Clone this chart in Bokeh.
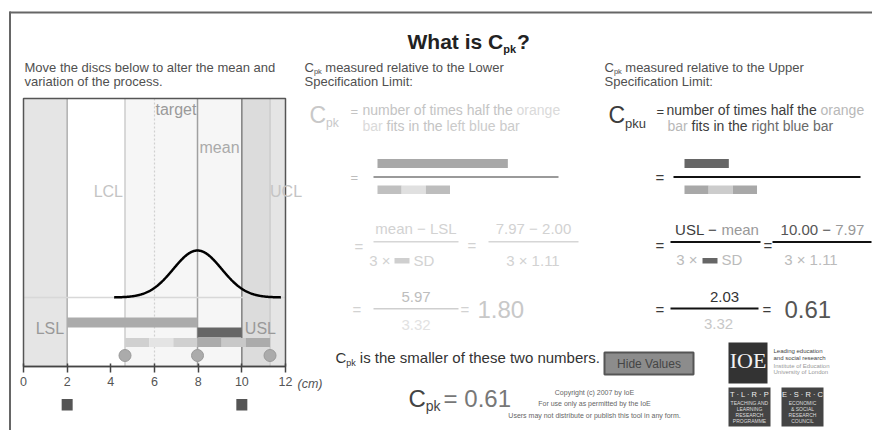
import numpy as np
from bokeh.plotting import figure
from bokeh.models import Range1d, Label, BoxAnnotation, FixedTicker, LinearAxis
from bokeh.embed import file_html
from bokeh.resources import INLINE

# ---------------- data ----------------
process_mean = 7.97
process_sd = 1.107
lsl = 2.00
usl = 10.00
target = 6.00
x_ticks = [0, 2, 4, 6, 8, 10, 12]
x_tick_labels = ["0", "2", "4", "6", "8", "10", "12"]
x_unit = "(cm)"

lcl = process_mean - 3 * process_sd
ucl = process_mean + 3 * process_sd
cpl = (process_mean - lsl) / (3 * process_sd)
cpu = (usl - process_mean) / (3 * process_sd)
cpk = min(cpl, cpu)


def f2(v):
    return f"{v:.2f}"


# ---------------- geometry (page pixels) ----------------
W, H = 872, 430
FL, FR, FT, FB = 23, 285, 98, 366          # chart box
BASE_PX, PEAK_PX = 297, 250                # curve baseline / peak rows
PXCM = (FR - FL) / (x_ticks[-1] - x_ticks[0])
peak = 1 / (process_sd * np.sqrt(2 * np.pi))
k = (BASE_PX - PEAK_PX) / peak

FONT = "Liberation Sans"

p = figure(width=W, height=H,
           x_range=Range1d((0 - FL) / PXCM, (W - FL) / PXCM),
           y_range=Range1d(H, 0),
           toolbar_location=None, output_backend="svg",
           x_axis_location=None, y_axis_location=None,
           min_border_left=0, min_border_right=0, min_border_top=0, min_border_bottom=0)
p.extra_x_ranges = {"px": Range1d(0, W)}
p.extra_y_ranges = {"dens": Range1d((BASE_PX - H) / k, BASE_PX / k)}
p.xgrid.visible = False
p.ygrid.visible = False
p.outline_line_color = None
p.background_fill_color = "white"
p.border_fill_color = "white"

ax = LinearAxis(ticker=FixedTicker(ticks=x_ticks), fixed_location=FB,
                bounds=(x_ticks[0], x_ticks[-1]))
ax.major_label_overrides = {t: l for t, l in zip(x_ticks, x_tick_labels)}
ax.axis_line_color = "#444444"
ax.axis_line_width = 1.5
ax.major_tick_line_color = "#444444"
ax.major_tick_line_width = 1.5
ax.major_tick_in = 3
ax.major_tick_out = 6
ax.minor_tick_line_color = None
ax.major_label_text_font = FONT
ax.major_label_text_font_size = "12.5px"
ax.major_label_text_color = "#555555"
ax.major_label_standoff = 4
p.add_layout(ax, "below")

# ---------------- text helpers ----------------
AW = {" ": 278, "!": 278, "(": 333, ")": 333, "-": 333, ".": 278, ":": 278,
      "=": 584, "?": 556, "×": 584, "−": 584}
for d in "0123456789":
    AW[d] = 556
AW.update(dict(A=667, B=667, C=722, D=722, E=667, F=611, G=778, H=722, I=278, J=500,
               K=667, L=556, M=833, N=722, O=778, P=667, Q=778, R=722, S=667, T=611,
               U=722, V=667, W=944, X=667, Y=667, Z=611))
AW.update(dict(a=556, b=556, c=500, d=556, e=556, f=278, g=556, h=556, i=222, j=222,
               k=500, l=222, m=833, n=556, o=556, p=556, q=556, r=333, s=500, t=278,
               u=556, v=500, w=722, x=500, y=500, z=500))
BW = dict(AW)
BW.update({"W": 944, "h": 611, "a": 556, "t": 333, "i": 278, "s": 556, "C": 722,
           "p": 611, "k": 556, "?": 611, " ": 278})


def tw(s, size, bold=False):
    tab = BW if bold else AW
    return sum(tab.get(c, 556) for c in s) * size / 1000


def TC(x, yc, text, size, color, align="left", style="normal", font=FONT):
    """Text whose capitals are centred on page row yc."""
    p.add_layout(Label(x=x, y=yc, text=text, x_range_name="px",
                       text_font=font, text_font_size=f"{size}px", text_color=color,
                       text_align=align, text_baseline="alphabetic",
                       text_font_style=style))


def RUN(x, yc, parts, size, align="left"):
    total = sum(tw(t, size) for t, _ in parts)
    if align == "center":
        x -= total / 2
    for t, c in parts:
        lead = len(t) - len(t.lstrip())
        if t.strip():
            TC(x + tw(" " * lead, size), yc, t.strip(), size, c)
        x += tw(t, size)
    return x


def BOX(l, r, t, b, color, line_color=None, line_width=1):
    p.add_layout(BoxAnnotation(left=l, right=r, top=t, bottom=b, x_range_name="px",
                               fill_color=color, fill_alpha=1,
                               line_color=line_color, line_width=line_width,
                               line_alpha=1, level="underlay"))


def CSUB(x, yc, main, sub, size, subsize, color, drop, bold=False):
    st = "bold" if bold else "normal"
    TC(x, yc, main, size, color, style=st)
    x2 = x + tw(main, size, bold)
    TC(x2, yc + 0.358 * (size - subsize) + drop, sub, subsize, color, style=st)
    return x2 + tw(sub, subsize, bold)


# ---------------- page frame lines ----------------
BOX(9, W, 11, 13, "#666666")
BOX(8.5, 10.5, 11, H, "#666666")

# ---------------- chart ----------------
x0, x1 = x_ticks[0], x_ticks[-1]
p.quad(left=[x0, usl], right=[lsl, x1], bottom=FB, top=FT,
       fill_color="black", fill_alpha=0.1, line_color=None)
p.quad(left=[lcl], right=[ucl], bottom=FB, top=FT,
       fill_color="black", fill_alpha=0.035, line_color=None)

for loc, col in [(lsl, "#b0b0b0"), (lcl, "#cccccc"), (process_mean, "#a0a0a0"),
                 (usl, "#808080"), (ucl, "#cccccc")]:
    p.segment(x0=[loc], x1=[loc], y0=[FT], y1=[FB], line_color=col, line_width=1.5)
p.segment(x0=[target], x1=[target], y0=[FT], y1=[FB], line_color="#d0d0d0",
          line_width=1.2, line_dash="2 2")
p.segment(x0=[x0], x1=[x1], y0=[0], y1=[0], y_range_name="dens",
          line_color="#d8d8d8", line_width=1.5)

xs = np.linspace(process_mean - 3.45 * process_sd, process_mean + 3.45 * process_sd, 300)
ys = np.exp(-0.5 * ((xs - process_mean) / process_sd) ** 2) / (process_sd * np.sqrt(2 * np.pi))
p.line(xs, ys, y_range_name="dens", line_color="black", line_width=2.5)

# bars below the curve
p.quad(left=[lsl], right=[process_mean], top=[317], bottom=[327],
       fill_color="#ababab", line_color=None)
p.quad(left=[process_mean], right=[usl], top=[327], bottom=[337],
       fill_color="#666666", line_color=None)
seg_cols = ["#d0d0d0", "#e4e4e4", "#d0d0d0", "#ababab", "#c8c8c8", "#ababab"]
seg_left = [lcl + i * process_sd for i in range(6)]
seg_right = [lcl + (i + 1) * process_sd for i in range(6)]
p.quad(left=seg_left, right=seg_right, top=[337.5] * 6, bottom=[346.5] * 6,
       fill_color=seg_cols, line_color=None)

p.scatter(x=[lcl, process_mean, ucl], y=[355] * 3, size=12,
          fill_color="#ababab", line_color="#9a9a9a")

# chart box
p.quad(left=[x0], right=[x1], top=[FT], bottom=[FB], fill_color=None,
       line_color="#555555", line_width=1.5)

# LSL / USL handles below the axis
hw = 5.5 / PXCM
p.quad(left=[lsl - hw, usl - hw], right=[lsl + hw, usl + hw], top=[398.5] * 2,
       bottom=[410] * 2, fill_color="#555555", line_color=None)


def CL(xcm, yc, text, size, color, align="left", xoff=0):
    p.add_layout(Label(x=xcm, y=yc, x_offset=xoff, text=text,
                       text_font=FONT, text_font_size=f"{size}px",
                       text_color=color, text_align=align, text_baseline="alphabetic"))


CL(target, 109, "target", 16, "#9a9a9a", xoff=1)
CL(process_mean, 146.5, "mean", 16, "#aaaaaa", xoff=2)
CL(lcl, 191, "LCL", 16, "#c4c4c4", align="right", xoff=-2)
CL(ucl, 191, "UCL", 16, "#c4c4c4", xoff=0)
CL(lsl, 328, "LSL", 16, "#999999", align="right", xoff=-3)
CL(usl, 328, "USL", 16, "#999999", xoff=3)

TC(297, 383, x_unit, 12.5, "#555555", style="italic")

# ---------------- title and headings ----------------
tx = CSUB(407, 40.5, "What is C", "pk", 21, 11, "#222222", 4, bold=True)
TC(tx + 1, 40.5, "?", 21, "#222222", style="bold")

HC = "#505050"
TC(24, 66.5, "Move the discs below to alter the mean and", 13, HC)
TC(24, 80.5, "variation of the process.", 13, HC)

xh = CSUB(304, 66.5, "C", "pk", 13, 7.5, HC, 2.5)
TC(xh + 3.5, 66.5, "measured relative to the Lower", 13, HC)
TC(304, 81, "Specification Limit:", 13, HC)

xh = CSUB(604, 66.5, "C", "pk", 13, 7.5, HC, 2.5)
TC(xh + 3.5, 66.5, "measured relative to the Upper", 13, HC)
TC(604, 81, "Specification Limit:", 13, HC)

# ---------------- middle (LSL) column : greyed ----------------
G1, G2, G3 = "#c4c4c4", "#dadada", "#d2d2d2"
CSUB(309, 114, "C", "pk", 23, 12, "#c8c8c8", 5)
TC(350, 111, "=", 13, G1)
RUN(362, 109, [("number of times half the ", G1), ("orange", G2)], 14)
RUN(362, 125.5, [("bar", G2), (" fits in the ", G1), ("left blue bar", "#cbcbcb")], 14)

# row 1 : bars
TC(350, 177, "=", 13, "#bdbdbd")
BOX(377, 377 + (process_mean - lsl) * PXCM, 158.5, 167.5, "#a8a8a8")
BOX(373, 558, 175.5, 177.5, "#9a9a9a")
for i, c in enumerate(["#c0c0c0", "#e0e0e0", "#bdbdbd"]):
    BOX(377 + i * process_sd * PXCM, 377 + (i + 1) * process_sd * PXCM, 185, 193.5, c)

# row 2
TC(354, 246, "=", 15, G3)
RUN(415.5, 228, [("mean − LSL", G3)], 15, align="center")
BOX(373, 458, 240.5, 242, "#d6d6d6")
TC(390, 260, "3 ×", 15, G3, align="right")
BOX(394, 409, 257.5, 263, "#cfcfcf")
TC(413, 260, "SD", 15, G3)
TC(467, 245, "=", 15, G3)
RUN(533, 228, [(f"{f2(process_mean)} − {f2(lsl)}", G3)], 15, align="center")
BOX(488, 578, 240.5, 242, "#d6d6d6")
RUN(533, 260, [(f"3 × {f2(process_sd)}", G3)], 15, align="center")

# row 3
TC(352, 309, "=", 15, G3)
RUN(415.5, 296.5, [(f2(process_mean - lsl), "#bdbdbd")], 15, align="center")
BOX(373, 458, 307.5, 309, "#cfcfcf")
RUN(415.5, 324, [(f2(3 * process_sd), "#e2e2e2")], 15, align="center")
TC(460, 309, "=", 15, G3)
TC(477, 309, f2(cpl), 24, "#c8c8c8")

# ---------------- right (USL) column ----------------
D1 = "#3c3c3c"
CSUB(608, 114, "C", "pku", 23, 13, D1, 5)
TC(656, 111, "=", 13, D1)
RUN(666, 109, [("number of times half the ", D1), ("orange", "#b8b8b8")], 14)
RUN(667, 125.5, [("bar", "#b8b8b8"), (" fits in the ", D1), ("right blue bar", "#6a6a6a")], 14)

# row 1
TC(655, 177, "=", 15, D1)
BOX(684, 684 + (usl - process_mean) * PXCM, 158.5, 167.5, "#666666")
BOX(673, 860, 175.5, 177.5, "#111111")
for i, c in enumerate(["#a8a8a8", "#cccccc", "#a8a8a8"]):
    BOX(684 + i * process_sd * PXCM, 684 + (i + 1) * process_sd * PXCM, 185, 193.5, c)

# row 2
TC(655, 245, "=", 15, D1)
RUN(716.5, 229, [("USL − ", D1), ("mean", "#999999")], 15, align="center")
BOX(670, 760, 240.5, 242.5, "#111111")
TC(697, 259, "3 ×", 15, "#bbbbbb", align="right")
BOX(702, 717, 257.5, 263, "#666666")
TC(721, 259, "SD", 15, "#bbbbbb")
TC(763, 245, "=", 15, D1)
RUN(822, 229, [(f"{f2(usl)} − ", "#555555"), (f2(process_mean), "#999999")], 15, align="center")
BOX(772, 871, 240.5, 242.5, "#111111")
RUN(811, 259, [(f"3 × {f2(process_sd)}", "#bbbbbb")], 15, align="center")

# row 3
TC(655, 309, "=", 15, D1)
RUN(724, 296.5, [(f2(usl - process_mean), "#333333")], 15, align="center")
BOX(670, 758, 307, 309, "#111111")
RUN(718, 323, [(f2(3 * process_sd), "#c8c8c8")], 15, align="center")
TC(762, 309, "=", 15, D1)
TC(784, 309, f2(cpu), 24, "#555555")

# ---------------- bottom ----------------
xb = CSUB(335, 357, "C", "pk", 15, 9, "#333333", 3)
TC(xb + 4, 357, "is the smaller of these two numbers.", 15, "#333333")

BOX(604, 693, 352, 374, "#8c8c8c", line_color="#555555", line_width=2)
TC(648.5, 363, "Hide Values", 12, "#454545", align="center")

xb = CSUB(408, 397.5, "C", "pk", 24, 14, "#444444", 4)
TC(xb + 3, 397.5, "= " + f2(cpk), 24, "#777777")

for yy, line in zip([392, 403, 415], ["Copyright (c) 2007 by IoE",
                                       "For use only as permitted by the IoE",
                                       "Users may not distribute or publish this tool in any form."]):
    TC(594, yy, line, 7, "#666666", align="center")

# logos
BOX(728, 767, 342, 383, "#333333")
TC(747.5, 360, "IOE", 22, "#f2f2f2", align="center", font="Liberation Serif")
for yy, line, c in zip([350, 357, 365, 371],
                       ["Leading education", "and social research",
                        "Institute of Education", "University of London"],
                       ["#444444", "#444444", "#999999", "#999999"]):
    TC(773, yy, line, 6, c)

BOX(728, 770, 387, 426, "#444444")
TC(749, 394, "T · L · R · P", 7.5, "#f0f0f0", align="center")
for i, line in enumerate(["TEACHING AND", "LEARNING", "RESEARCH", "PROGRAMME"]):
    TC(749, 402 + i * 6, line, 5, "#dddddd", align="center")
BOX(781, 823, 387, 426, "#444444")
TC(802, 394, "E · S · R · C", 7.5, "#f0f0f0", align="center")
for i, line in enumerate(["ECONOMIC", "& SOCIAL", "RESEARCH", "COUNCIL"]):
    TC(802, 402 + i * 6, line, 5, "#dddddd", align="center")

open("out.html", "w").write(file_html(p, INLINE))
